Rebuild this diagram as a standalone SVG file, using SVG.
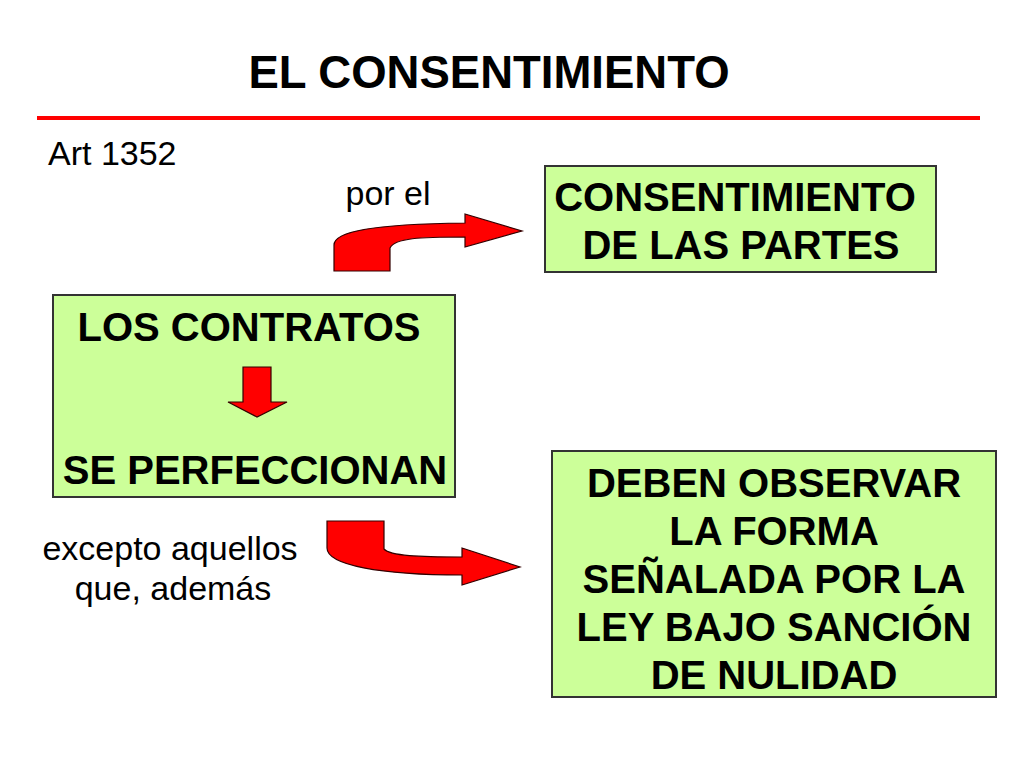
<svg xmlns="http://www.w3.org/2000/svg" width="1024" height="768" viewBox="0 0 1024 768">
<style>
.box{fill:#ccff99;stroke:#333333;stroke-width:2}
.bt{font-family:"Liberation Sans",Arial,sans-serif;font-weight:bold;font-size:40px;fill:#000;text-anchor:middle}
.lbl{font-family:"Liberation Sans",Arial,sans-serif;font-size:34px;fill:#000}
.arr{fill:#ff0000;stroke:#330000;stroke-width:1.2;stroke-linejoin:miter}
</style>
<rect width="1024" height="768" fill="#ffffff"/>
<text x="489" y="88" font-family="Liberation Sans, Arial, sans-serif" font-weight="bold" font-size="45.5" text-anchor="middle">EL CONSENTIMIENTO</text>
<line x1="37" y1="118" x2="980" y2="118" stroke="#ff0000" stroke-width="4"/>
<text class="lbl" x="48" y="165">Art 1352</text>
<text class="lbl" x="388" y="205" text-anchor="middle">por el</text>
<text class="lbl" x="170" y="560" text-anchor="middle">excepto aquellos</text>
<text class="lbl" x="173" y="600" text-anchor="middle">que, además</text>

<g id="node-consentimiento">
<rect class="box" x="545" y="166" width="391" height="106"/>
<text class="bt" x="735" y="211">CONSENTIMIENTO</text>
<text class="bt" x="741" y="259">DE LAS PARTES</text>
</g>

<g id="node-contratos">
<rect class="box" x="53" y="295" width="402" height="202"/>
<text class="bt" x="249" y="341">LOS CONTRATOS</text>
<path class="arr" d="M243,367 L271,367 L271,402 L287,402 L257,417 L228,402 L243,402 Z"/>
<text class="bt" x="255" y="484">SE PERFECCIONAN</text>
</g>

<g id="node-forma">
<rect class="box" x="552" y="451" width="444" height="246"/>
<text class="bt" x="774" y="497">DEBEN OBSERVAR</text>
<text class="bt" x="774" y="545">LA FORMA</text>
<text class="bt" x="774" y="593">SEÑALADA POR LA</text>
<text class="bt" x="774" y="641">LEY BAJO SANCIÓN</text>
<text class="bt" x="774" y="689">DE NULIDAD</text>
</g>

<g id="connectors">
<path class="arr" d="M334,271 L334,245 C334,232 370,224 465,223 L465,214 L522,231 L465,247 L465,237 C420,237 395,238 390,248 L390,271 Z"/>
<path class="arr" d="M327,521 L384,521 L384,549 C390,556 420,557 462,557 L462,548 L520,567 L462,585 L462,575 C380,575 327,565 327,548 Z"/>
</g>
</svg>
